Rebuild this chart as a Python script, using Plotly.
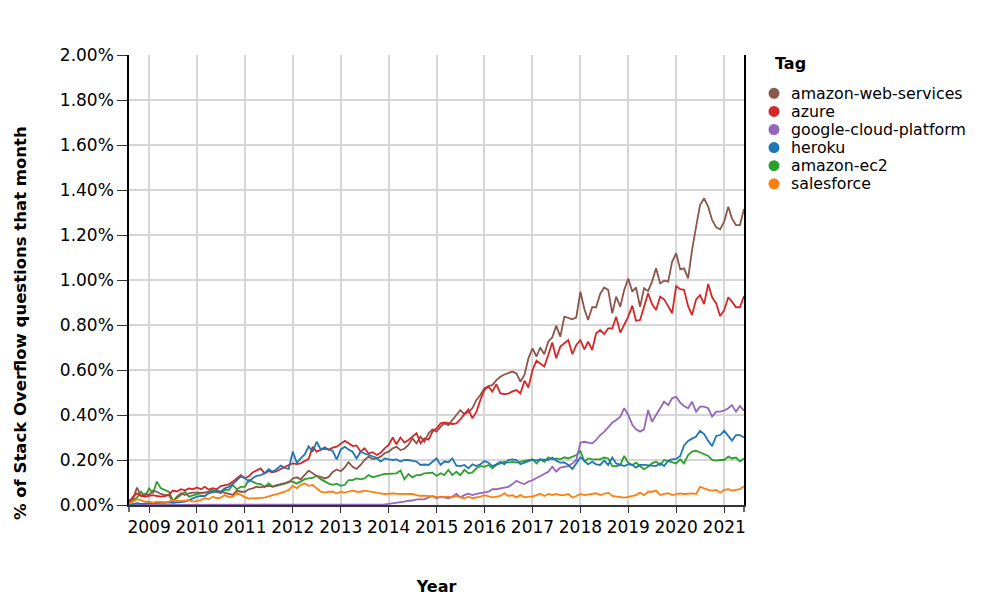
import pandas as pd
import plotly.graph_objects as go

# Monthly share of Stack Overflow questions (percent), Aug 2008 .. Jun 2021
start_month = "2008-08-01"
n_months = 155

tags = ["amazon-web-services", "azure", "google-cloud-platform", "heroku", "amazon-ec2", "salesforce"]
colors = {
    "amazon-web-services": "#8c564b",
    "azure": "#d62728",
    "google-cloud-platform": "#9467bd",
    "heroku": "#1f77b4",
    "amazon-ec2": "#2ca02c",
    "salesforce": "#ff7f0e",
}

aws = [
    0.02, 0.03, 0.077, 0.04, 0.05,
    0.044, 0.064, 0.059, 0.049, 0.044, 0.044, 0.015, 0.037, 0.052, 0.044, 0.052, 0.055,
    0.055, 0.052, 0.052, 0.055, 0.059, 0.057, 0.059, 0.055, 0.052, 0.045, 0.064, 0.059,
    0.059, 0.07, 0.074, 0.081, 0.078, 0.08, 0.085, 0.082, 0.085, 0.093, 0.096, 0.1,
    0.118, 0.123, 0.114, 0.133, 0.153, 0.141, 0.129, 0.125, 0.118, 0.125, 0.147, 0.158,
    0.15, 0.167, 0.19, 0.17, 0.16, 0.178, 0.2, 0.215, 0.204, 0.207, 0.215, 0.23,
    0.237, 0.252, 0.259, 0.244, 0.25, 0.267, 0.296, 0.274, 0.304, 0.281, 0.319, 0.336,
    0.326, 0.348, 0.363, 0.355, 0.378, 0.4, 0.422, 0.404, 0.413, 0.43, 0.467, 0.489,
    0.519, 0.529, 0.533, 0.555, 0.57, 0.58, 0.585, 0.593, 0.585, 0.548, 0.578, 0.652,
    0.696, 0.66, 0.70, 0.67, 0.726, 0.745, 0.797, 0.748, 0.837, 0.83, 0.825, 0.834,
    0.948, 0.87, 0.822, 0.879, 0.879, 0.938, 0.967, 0.956, 0.852, 0.926, 0.881, 0.956,
    1.007, 0.948, 0.967, 0.881, 0.963, 0.951, 0.993, 1.052, 0.985, 0.997, 0.993, 1.081,
    1.119, 1.047, 1.052, 1.007, 1.133, 1.237, 1.333, 1.363, 1.326, 1.267, 1.234, 1.225,
    1.259, 1.326, 1.274, 1.244, 1.244, 1.316,
]

azure = [
    0.01, 0.037, 0.052, 0.04, 0.037,
    0.04, 0.044, 0.04, 0.037, 0.04, 0.045, 0.064, 0.06, 0.07, 0.065, 0.074, 0.07,
    0.078, 0.07, 0.081, 0.068, 0.075, 0.07, 0.084, 0.089, 0.092, 0.104, 0.118, 0.133,
    0.119, 0.128, 0.145, 0.156, 0.163, 0.141, 0.15, 0.145, 0.15, 0.16, 0.17, 0.178,
    0.185, 0.182, 0.185, 0.195, 0.205, 0.259, 0.237, 0.245, 0.256, 0.245, 0.255, 0.259,
    0.274, 0.285, 0.274, 0.262, 0.265, 0.237, 0.252, 0.229, 0.235, 0.222, 0.232, 0.252,
    0.267, 0.30, 0.27, 0.30, 0.278, 0.289, 0.304, 0.319, 0.274, 0.296, 0.29, 0.326,
    0.341, 0.363, 0.367, 0.362, 0.36, 0.363, 0.38, 0.404, 0.425, 0.385, 0.415, 0.467,
    0.511, 0.526, 0.504, 0.537, 0.496, 0.493, 0.495, 0.505, 0.511, 0.496, 0.552, 0.522,
    0.60, 0.641, 0.63, 0.615, 0.667, 0.722, 0.652, 0.704, 0.719, 0.733, 0.670, 0.711,
    0.733, 0.692, 0.726, 0.689, 0.763, 0.778, 0.760, 0.785, 0.785, 0.837, 0.766, 0.80,
    0.837, 0.886, 0.819, 0.822, 0.881, 0.941, 0.893, 0.867, 0.926, 0.914, 0.884, 0.852,
    0.973, 0.959, 0.956, 0.884, 0.844, 0.914, 0.933, 0.893, 0.982, 0.923, 0.896, 0.840,
    0.866, 0.923, 0.904, 0.879, 0.879, 0.929,
]

gcp = [
    0.0, 0.0, 0.0, 0.0, 0.0,
    0.0, 0.0, 0.0, 0.0, 0.0, 0.0, 0.0, 0.0, 0.0, 0.0, 0.0, 0.0,
    0.0, 0.0, 0.0, 0.0, 0.0, 0.0, 0.0, 0.0, 0.0, 0.0, 0.0, 0.0,
    0.0, 0.0, 0.0, 0.0, 0.0, 0.0, 0.0, 0.0, 0.0, 0.0, 0.0, 0.0,
    0.0, 0.0, 0.0, 0.0, 0.0, 0.0, 0.0, 0.0, 0.0, 0.0, 0.0, 0.0,
    0.0, 0.0, 0.0, 0.0, 0.0, 0.0, 0.0, 0.001, 0.001, 0.002, 0.002, 0.003,
    0.005, 0.007, 0.01, 0.012, 0.015, 0.019, 0.02, 0.025, 0.024, 0.025, 0.034, 0.04,
    0.03, 0.037, 0.034, 0.03, 0.037, 0.049, 0.034, 0.044, 0.05, 0.044, 0.049, 0.052,
    0.055, 0.059, 0.07, 0.07, 0.074, 0.078, 0.081, 0.093, 0.108, 0.099, 0.093, 0.104,
    0.11, 0.12, 0.13, 0.141, 0.148, 0.17, 0.148, 0.166, 0.17, 0.173, 0.185, 0.2,
    0.277, 0.281, 0.277, 0.274, 0.289, 0.311, 0.325, 0.345, 0.366, 0.378, 0.393, 0.43,
    0.40, 0.356, 0.336, 0.326, 0.336, 0.422, 0.37, 0.40, 0.43, 0.459, 0.444, 0.474,
    0.481, 0.455, 0.44, 0.43, 0.459, 0.415, 0.437, 0.437, 0.43, 0.393, 0.415, 0.415,
    0.42, 0.43, 0.444, 0.415, 0.44, 0.419,
]

heroku = [
    0.0, 0.005, 0.008, 0.005, 0.008,
    0.008, 0.008, 0.01, 0.01, 0.01, 0.012, 0.01, 0.012, 0.012, 0.015, 0.022, 0.03,
    0.037, 0.04, 0.04, 0.052, 0.058, 0.064, 0.059, 0.074, 0.081, 0.093, 0.111, 0.126,
    0.12, 0.104, 0.119, 0.13, 0.133, 0.141, 0.159, 0.148, 0.16, 0.175, 0.165, 0.16,
    0.237, 0.188, 0.207, 0.225, 0.26, 0.237, 0.281, 0.248, 0.25, 0.247, 0.24, 0.203,
    0.247, 0.259, 0.247, 0.237, 0.207, 0.237, 0.229, 0.222, 0.215, 0.21, 0.193, 0.207,
    0.203, 0.2, 0.203, 0.193, 0.2, 0.2, 0.196, 0.193, 0.178, 0.18, 0.178, 0.193,
    0.207, 0.178, 0.193, 0.19, 0.207, 0.175, 0.173, 0.178, 0.163, 0.181, 0.173, 0.181,
    0.195, 0.188, 0.173, 0.181, 0.192, 0.181, 0.2, 0.203, 0.2, 0.181, 0.189, 0.195,
    0.2, 0.198, 0.203, 0.203, 0.2, 0.211, 0.197, 0.188, 0.189, 0.178, 0.16, 0.185,
    0.212, 0.197, 0.181, 0.192, 0.181, 0.178, 0.197, 0.178, 0.211, 0.185, 0.178, 0.173,
    0.181, 0.178, 0.166, 0.178, 0.178, 0.176, 0.175, 0.173, 0.185, 0.173, 0.197, 0.203,
    0.205, 0.218, 0.265, 0.285, 0.295, 0.304, 0.330, 0.315, 0.285, 0.262, 0.307, 0.311,
    0.330, 0.307, 0.286, 0.311, 0.311, 0.300,
]

ec2 = [
    0.0, 0.022, 0.033, 0.059, 0.037,
    0.074, 0.052, 0.104, 0.074, 0.067, 0.059, 0.022, 0.03, 0.044, 0.059, 0.037, 0.044,
    0.048, 0.052, 0.055, 0.059, 0.067, 0.06, 0.052, 0.067, 0.067, 0.089, 0.07, 0.081,
    0.081, 0.111, 0.104, 0.095, 0.093, 0.08, 0.096, 0.081, 0.089, 0.09, 0.095, 0.104,
    0.104, 0.095, 0.104, 0.115, 0.118, 0.12, 0.13, 0.115, 0.105, 0.095, 0.09, 0.095,
    0.085, 0.09, 0.111, 0.111, 0.118, 0.114, 0.118, 0.133, 0.123, 0.129, 0.133, 0.138,
    0.138, 0.14, 0.141, 0.153, 0.114, 0.138, 0.123, 0.133, 0.133, 0.141, 0.141, 0.144,
    0.129, 0.141, 0.133, 0.156, 0.133, 0.148, 0.133, 0.156, 0.141, 0.145, 0.163, 0.173,
    0.170, 0.178, 0.163, 0.178, 0.185, 0.192, 0.188, 0.192, 0.188, 0.192, 0.195, 0.2,
    0.203, 0.185, 0.203, 0.192, 0.212, 0.203, 0.207, 0.203, 0.212, 0.207, 0.215, 0.222,
    0.24, 0.193, 0.207, 0.203, 0.203, 0.203, 0.211, 0.207, 0.173, 0.173, 0.178, 0.218,
    0.188, 0.178, 0.188, 0.173, 0.159, 0.17, 0.185, 0.193, 0.178, 0.2, 0.195, 0.19,
    0.185, 0.203, 0.185, 0.222, 0.237, 0.241, 0.233, 0.225, 0.218, 0.2, 0.197, 0.2,
    0.2, 0.215, 0.207, 0.211, 0.193, 0.207,
]

salesforce = [
    0.005, 0.015, 0.026, 0.022, 0.015,
    0.015, 0.011, 0.015, 0.013, 0.013, 0.015, 0.022, 0.018, 0.02, 0.019, 0.02, 0.015,
    0.018, 0.022, 0.03, 0.026, 0.037, 0.03, 0.033, 0.044, 0.035, 0.037, 0.054, 0.044,
    0.035, 0.028, 0.03, 0.033, 0.032, 0.033, 0.04, 0.044, 0.048, 0.052, 0.059, 0.067,
    0.085, 0.075, 0.089, 0.096, 0.085, 0.089, 0.074, 0.059, 0.055, 0.059, 0.059, 0.052,
    0.059, 0.055, 0.06, 0.064, 0.059, 0.059, 0.064, 0.06, 0.058, 0.055, 0.052, 0.049,
    0.05, 0.052, 0.05, 0.05, 0.049, 0.05, 0.049, 0.044, 0.04, 0.042, 0.04, 0.04,
    0.037, 0.034, 0.036, 0.037, 0.034, 0.04, 0.034, 0.03, 0.037, 0.03, 0.034, 0.037,
    0.044, 0.04, 0.034, 0.037, 0.04, 0.052, 0.04, 0.044, 0.034, 0.044, 0.034, 0.037,
    0.037, 0.044, 0.05, 0.04, 0.049, 0.044, 0.049, 0.044, 0.044, 0.049, 0.033, 0.04,
    0.049, 0.044, 0.046, 0.049, 0.052, 0.044, 0.048, 0.055, 0.04, 0.037, 0.033, 0.033,
    0.036, 0.04, 0.044, 0.055, 0.044, 0.059, 0.059, 0.064, 0.044, 0.049, 0.052, 0.044,
    0.048, 0.052, 0.049, 0.05, 0.052, 0.049, 0.081, 0.074, 0.067, 0.064, 0.067, 0.055,
    0.067, 0.07, 0.064, 0.067, 0.07, 0.084,
]

series = {
    "amazon-web-services": aws,
    "azure": azure,
    "google-cloud-platform": gcp,
    "heroku": heroku,
    "amazon-ec2": ec2,
    "salesforce": salesforce,
}

months = pd.date_range(start_month, periods=n_months, freq="MS")

FONT = "DejaVu Sans, Verdana, sans-serif"
# the page body adds an 8px margin, so the figure is laid out 8px up/left
OFF = 8
W, H = 993 - OFF, 607 - OFF
ML, MR, MT, MB = 129 - OFF, 249, 55 - OFF, 102

fig = go.Figure()
for tag in sorted(tags):
    vals = [v / 100.0 for v in series[tag]]
    fig.add_trace(go.Scatter(
        x=months, y=vals, mode="lines", name=tag,
        line=dict(color=colors[tag], width=1.8),
        showlegend=False,
    ))

plot_w = W - ML - MR
plot_h = H - MT - MB
def px_to_paper_x(px):
    return (px - OFF - ML) / plot_w
def px_to_paper_y(py):
    return (H - MB - (py - OFF)) / plot_h

# y-axis title (placed as in the reference, slightly below the axis centre)
annotations = [dict(
    text="<b>% of Stack Overflow questions that month</b>", xref="paper", yref="paper",
    x=px_to_paper_x(20), y=px_to_paper_y(323), xanchor="center", yanchor="middle",
    textangle=-90, showarrow=False, font=dict(family=FONT, size=16.5, color="#000"),
)]

# Legend (built by hand to match the compact 18px row spacing)
annotations.append(dict(
    text="<b>Tag</b>", xref="paper", yref="paper",
    x=px_to_paper_x(773), y=px_to_paper_y(63), xanchor="left", yanchor="middle",
    showarrow=False, font=dict(family=FONT, size=16, color="#000"),
))
shapes = []
row0, row_gap = 93.3, 18.1
for i, tag in enumerate(tags):
    cy = row0 + i * row_gap
    shapes.append(dict(
        type="circle", xref="paper", yref="paper",
        xsizemode="pixel", ysizemode="pixel",
        xanchor=px_to_paper_x(774), yanchor=px_to_paper_y(cy),
        x0=-5.5, x1=5.5, y0=-5.5, y1=5.5,
        fillcolor=colors[tag], line=dict(width=0),
    ))
    annotations.append(dict(
        text=tag, xref="paper", yref="paper",
        x=px_to_paper_x(790), y=px_to_paper_y(cy), xanchor="left", yanchor="middle",
        width=177, align="left", borderpad=0,
        showarrow=False, font=dict(family=FONT, size=15.8, color="#000"),
    ))

# small end ticks below the x axis at both plot edges
for xe in (0, 1):
    shapes.append(dict(
        type="line", xref="paper", yref="paper", ysizemode="pixel", yanchor=0,
        x0=xe, x1=xe, y0=0, y1=-7, line=dict(color="#333", width=1.5),
    ))

fig.update_layout(
    width=W, height=H,
    margin=dict(l=ML, r=MR, t=MT, b=MB, autoexpand=False),
    paper_bgcolor="white", plot_bgcolor="white",
    font=dict(family=FONT, size=17, color="#000"),
    showlegend=False,
    annotations=annotations,
    shapes=shapes,
    xaxis=dict(
        range=[months[0], months[-1]],
        tick0="2009-01-01", dtick="M12", tickformat="%Y",
        showgrid=True, gridcolor="#d6d6d6", gridwidth=1.5,
        showline=True, linecolor="#333", linewidth=1.5,
        ticks="outside", ticklen=6, tickcolor="#333",
        tickfont=dict(family=FONT, size=17, color="#000"),
        title=dict(text="<b>Year</b>", font=dict(family=FONT, size=16, color="#000"), standoff=45),
        zeroline=False, automargin=False,
    ),
    yaxis=dict(
        range=[0, 0.02], dtick=0.002, tickformat=".2%",
        showgrid=True, gridcolor="#d6d6d6", gridwidth=1.5,
        showline=True, linecolor="#000", linewidth=1.5, mirror=True,
        ticks="outside", ticklen=10, tickcolor="#333",
        tickfont=dict(family=FONT, size=17, color="#000"),
        zeroline=False, automargin=False,
    ),
)

fig.write_html("out.html")
